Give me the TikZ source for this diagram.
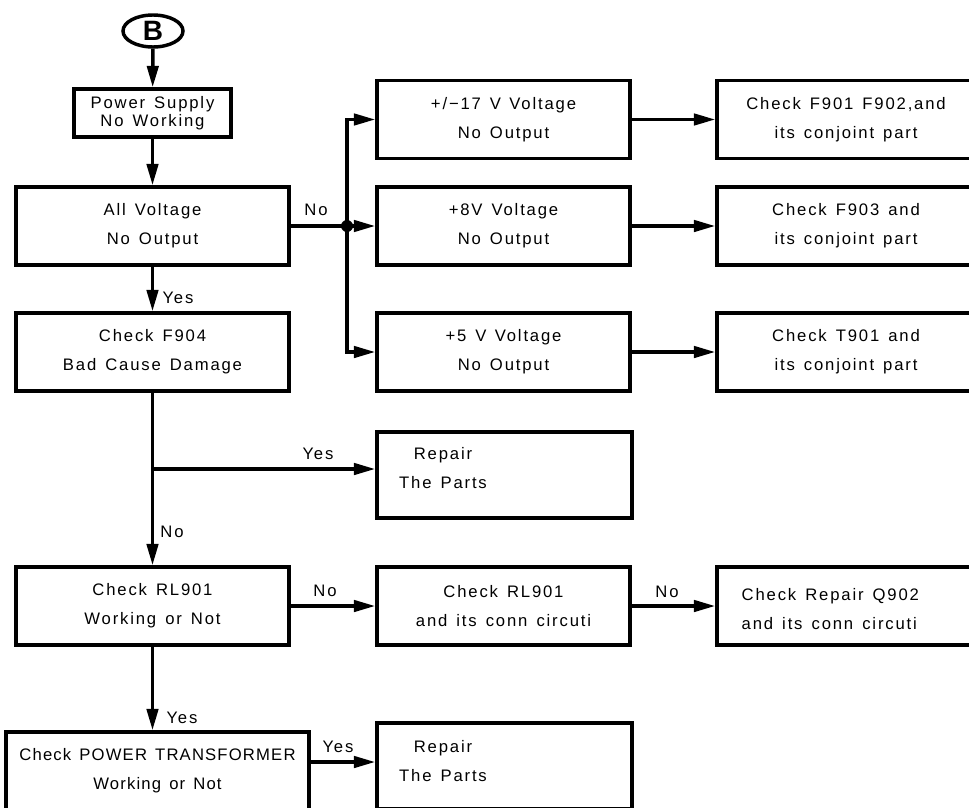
\documentclass[tikz,border=0pt]{standalone}
\usepackage{fontspec}
\setmainfont{Liberation Sans}[LetterSpace=11.0, WordSpace=1.4]
\usetikzlibrary{arrows.meta,shapes.geometric}

\begin{document}
\begin{tikzpicture}[x=0.75pt, y=-0.75pt, line width=2.6pt,
    box/.style={draw, rectangle, align=center, inner sep=0pt, minimum height=58.5pt,
        font=\fontsize{12.5}{21.75}\selectfont},
    txt/.style={align=center, inner sep=0pt, font=\fontsize{12.5}{21.75}\selectfont},
    lbl/.style={inner sep=0pt, font=\fontsize{12.5}{15}\selectfont},
    arr/.style={-{Triangle[length=16pt,width=8.5pt]}},
    dot/.style={circle, fill, inner sep=0pt, minimum size=9pt}]
    \useasboundingbox (0,0) rectangle (969,807);
    \clip (0,0) rectangle (969,807);

    % Start and first check
    \node[draw, ellipse, inner sep=0pt, minimum width=45pt, minimum height=24pt,
        font=\fontsize{21}{21}\selectfont\bfseries] (b) at (153,31) {B};
    \node[box, minimum width=117.75pt, minimum height=36pt,
        font=\fontsize{12.5}{13.5}\selectfont] (psu) at (152.5,113) {Power Supply\\No Working};
    \node[box, minimum width=204.75pt] (allv) at (152.5,226) {All Voltage\\No Output};

    % Voltage branches
    \node[dot] (jn) at (347,226) {};
    \node[box, minimum width=189.75pt] (v17) at (503.5,119.5) {+/−17 V\enspace Voltage\\No Output};
    \node[box, minimum width=189.75pt] (v8) at (503.5,226) {+8V Voltage\\No Output};
    \node[box, minimum width=189.75pt] (v5) at (503.5,352) {+5 V\enspace Voltage\\No Output};

    \node[box, minimum width=193.5pt] (f901) at (846,119.5) {Check F901 F902,and\\its conjoint part};
    \node[box, minimum width=193.5pt] (f903) at (846,226) {Check F903 and\\its conjoint part};
    \node[box, minimum width=193.5pt] (t901) at (846,352) {Check T901 and\\its conjoint part};

    % Fuse and relay checks
    \node[box, minimum width=204.75pt] (f904) at (152.5,352) {Check F904\\Bad Cause Damage};
    \node[box, minimum width=191.25pt, minimum height=64.5pt] (repair1) at (504.5,475) {};
    \node[txt] (repair1txt) at (443,468.5) {Repair\\The Parts};
    \coordinate (br) at (152.5,469);

    \node[box, minimum width=204.75pt] (rl901) at (152.5,606) {Check RL901\\Working or Not};
    \node[box, minimum width=189.75pt] (rlchk) at (503.5,606) {Check RL901\\and its conn circuti};
    \node[box, minimum width=193.5pt] (q902) at (846,606) {};
    \node[txt, anchor=west, align=left] (q902txt) at (740,609) {Check Repair Q902\\and its conn circuti};

    % Transformer check
    \node[box, minimum width=227.25pt,
        font=\fontsize{12.5}{21.75}\selectfont\addfontfeature{LetterSpace=7.0}] (ptx) at (157.5,771)
        {Check POWER TRANSFORMER\\Working or Not};
    \node[box, minimum width=191.25pt, minimum height=64.5pt] (repair2) at (504.5,766) {};
    \node[txt] (repair2txt) at (443,761) {Repair\\The Parts};
    \coordinate (ty) at (0,762);

    % Connections
    \draw[arr] (b) -- (psu);
    \draw[arr] (psu) -- (allv);
    \draw (allv.east) -- (jn.center);
    \draw[arr] (jn.center) |- (v17.west);
    \draw[arr] (jn.center) -- (v8.west);
    \draw[arr] (jn.center) |- (v5.west);
    \draw[arr] (v17) -- (f901);
    \draw[arr] (v8) -- (f903);
    \draw[arr] (v5) -- (t901);

    \draw[arr] (allv) -- (f904);
    \draw[arr] (f904) -- (rl901);
    \draw[arr] (br) -- (br -| repair1.west);
    \draw[arr] (rl901) -- (rlchk);
    \draw[arr] (rlchk) -- (q902);
    \draw[arr] (rl901) -- (rl901 |- ptx.north);
    \draw[arr] (ptx.east |- ty) -- (repair2.west |- ty);

    % Labels
    \node[lbl] (noallv) at (316,210) {No};
    \node[lbl] (yesallv) at (178,298) {Yes};
    \node[lbl] (yesf904) at (318,454) {Yes};
    \node[lbl] (nof904) at (172,532) {No};
    \node[lbl] (norl) at (325,591) {No};
    \node[lbl] (norlchk) at (667,592) {No};
    \node[lbl] (yesrl) at (182,718) {Yes};
    \node[lbl] (yesptx) at (338,747) {Yes};
\end{tikzpicture}
\end{document}
